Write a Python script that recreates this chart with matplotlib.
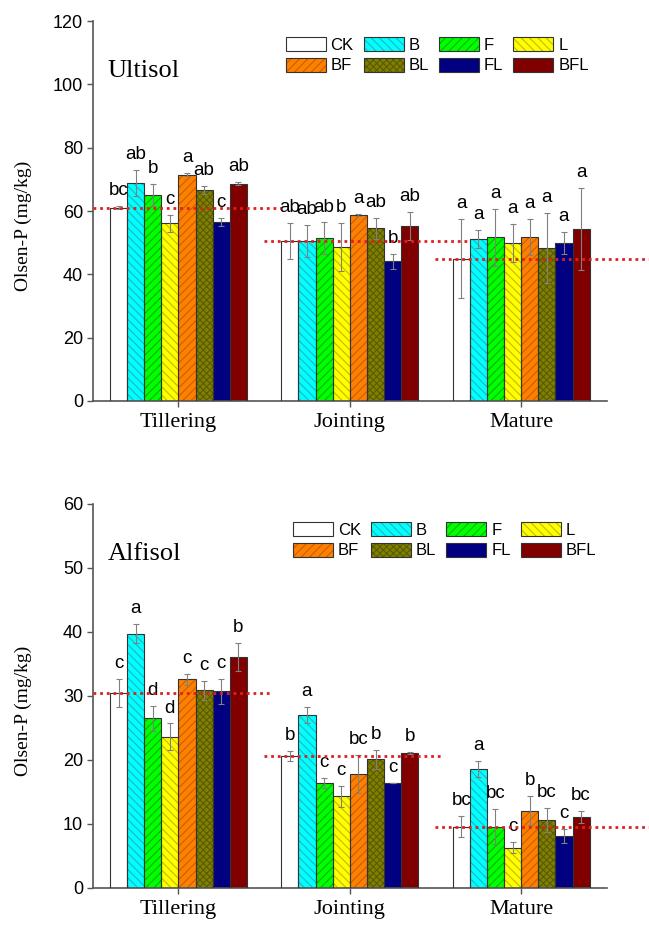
import numpy as np
import matplotlib.pyplot as plt
from matplotlib.patches import Patch

# ----- data -----
stages = ["Tillering", "Jointing", "Mature"]
treatments = ["CK", "B", "F", "L", "BF", "BL", "FL", "BFL"]

ultisol_mean = [[61.0, 68.9, 65.0, 56.1, 71.5, 66.6, 56.6, 68.7],
                [50.5, 50.6, 51.4, 48.7, 58.8, 54.5, 44.1, 55.3],
                [45.0, 51.2, 51.7, 50.0, 51.7, 48.4, 50.0, 54.4]]
ultisol_err = [[0.5, 4.0, 3.5, 2.8, 0.5, 1.2, 1.2, 0.5],
               [5.8, 5.0, 5.0, 7.5, 0.3, 3.4, 2.3, 4.5],
               [12.5, 2.8, 9.0, 6.0, 5.7, 11.0, 3.5, 13.0]]
ultisol_sig = [["bc", "ab", "b", "c", "a", "ab", "c", "ab"],
               ["ab", "ab", "ab", "b", "a", "ab", "b", "ab"],
               ["a", "a", "a", "a", "a", "a", "a", "a"]]

alfisol_mean = [[30.4, 39.7, 26.5, 23.6, 32.6, 30.9, 30.7, 36.1],
                [20.6, 27.0, 16.4, 14.3, 17.8, 20.1, 16.4, 21.1],
                [9.6, 18.6, 9.6, 6.3, 12.1, 10.6, 8.1, 11.1]]
alfisol_err = [[2.2, 1.5, 1.9, 2.1, 0.9, 1.5, 2.0, 2.2],
               [0.8, 1.3, 0.8, 1.6, 3.0, 1.5, 0.0, 0.2],
               [1.7, 1.2, 2.7, 0.9, 2.3, 1.9, 1.1, 1.0]]
alfisol_sig = [["c", "a", "d", "d", "c", "c", "c", "b"],
               ["b", "a", "c", "c", "bc", "b", "c", "b"],
               ["bc", "a", "bc", "c", "b", "bc", "c", "bc"]]

# ----- styles -----
fills = ["white", "#00FFFF", "#00FF00", "#FFFF00", "#FF8000", "#808000", "#000080", "#800000"]
hatch_cols = ["white", "#22B4BC", "#00B400", "#C4B800", "#C46000", "#5A5A00", "#000080", "#800000"]
hatches = ["", "\\\\\\\\", "////", "\\\\\\\\", "////", "xxxxx", "", ""]
SANS = "Liberation Sans"
SERIF = "Liberation Serif"
AXCOL = "#555555"
width = 0.1
plt.rcParams["hatch.linewidth"] = 0.8

fig = plt.figure(figsize=(6.49, 9.31), dpi=100)
ax_top = fig.add_axes([0.143, 0.5693, 0.792, 0.408])
ax_bot = fig.add_axes([0.143, 0.0462, 0.792, 0.4125])


def draw_panel(ax, means, errs, sigs, title, ymax, ystep, line_ends, lgd_xy):
    means = np.array(means)
    errs = np.array(errs)
    centers = np.arange(len(stages))
    for j in range(len(treatments)):
        x = centers + (j - 3.5) * width
        ax.bar(x, means[:, j], width, color=fills[j], hatch=hatches[j],
               edgecolor=hatch_cols[j], linewidth=0, zorder=2)
        ax.bar(x, means[:, j], width, fill=False, edgecolor="#333333",
               linewidth=0.8, zorder=3)
        ax.errorbar(x, means[:, j], yerr=errs[:, j], fmt="none", ecolor="#808080",
                    elinewidth=0.8, capsize=2, capthick=0.8, zorder=4)
        for i in range(len(stages)):
            ax.annotate(sigs[i][j], (x[i], means[i, j] + errs[i, j]),
                        xytext=(0, 5), textcoords="offset points",
                        ha="center", va="bottom", fontsize=13.5, family=SANS,
                        zorder=5)

    # dotted reference line at the CK mean of each stage
    for i in range(len(stages)):
        ax.plot([i - 0.5, i + line_ends[i]], [means[i, 0]] * 2, color="#DD2020",
                linestyle=(0, (1, 1.4)), linewidth=2, zorder=6, clip_on=False)

    ax.set_xlim(-0.5, 2.5)
    ax.set_ylim(0, ymax)
    ax.set_xticks(centers)
    ax.set_xticklabels(stages, family=SERIF, fontsize=16)
    ax.set_yticks(np.arange(0, ymax + 1, ystep))
    ax.set_yticklabels([str(v) for v in np.arange(0, ymax + 1, ystep)],
                       family=SANS, fontsize=13)
    for s in ["top", "right"]:
        ax.spines[s].set_visible(False)
    for s in ["left", "bottom"]:
        ax.spines[s].set_color(AXCOL)
        ax.spines[s].set_linewidth(1.2)
    ax.tick_params(direction="out", length=4, width=1, color=AXCOL, pad=3)
    ax.tick_params(axis="x", pad=5)
    ax.set_ylabel("Olsen-P (mg/kg)", family=SERIF, fontsize=14)
    ax.yaxis.set_label_coords(-0.118, 0.46)
    ax.text(0.029, 0.87, title, transform=ax.transAxes, family=SERIF,
            fontsize=19, va="center", ha="left")

    handles = [(Patch(facecolor=fills[j], hatch=hatches[j], edgecolor=hatch_cols[j], linewidth=0),
                Patch(fill=False, edgecolor="#333333", linewidth=0.8)) for j in range(8)]
    order = [0, 4, 1, 5, 2, 6, 3, 7]
    ax.legend([handles[k] for k in order], [treatments[k] for k in order],
              ncol=4, loc="upper left", bbox_to_anchor=lgd_xy, frameon=False,
              prop={"family": SANS, "size": 12}, handlelength=2.4, handleheight=0.9,
              handletextpad=0.3, columnspacing=0.6, labelspacing=0.3,
              borderpad=0, borderaxespad=0)


draw_panel(ax_top, ultisol_mean, ultisol_err, ultisol_sig, "Ultisol", 120, 20,
           [0.6, 0.7, 0.75], (0.375, 0.958))
draw_panel(ax_bot, alfisol_mean, alfisol_err, alfisol_sig, "Alfisol", 60, 10,
           [0.55, 0.55, 0.75], (0.389, 0.953))

fig.savefig("out.png", dpi=100)
